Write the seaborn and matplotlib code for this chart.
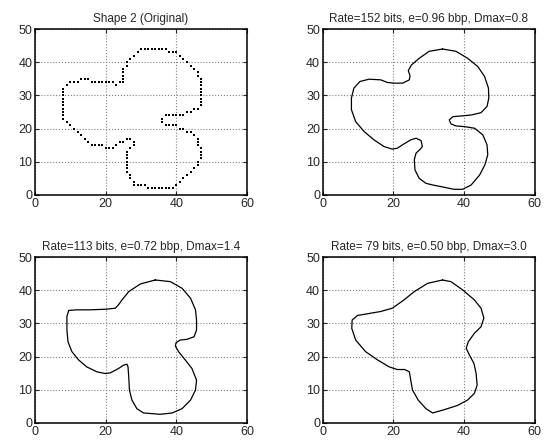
import matplotlib
matplotlib.use("Agg")
import matplotlib.pyplot as plt
import pandas as pd
import seaborn as sns

# original shape: boundary pixels (clockwise from the top)
orig_x = [30, 31, 32, 33, 34, 35, 36, 37, 38, 39, 40, 41, 42, 43, 44, 45, 46, 46,
          47, 47, 47, 47, 47, 47, 47, 47, 47, 46, 45, 44, 43, 42, 41, 40, 39, 38, 37,
          36, 36, 37, 38, 39, 40, 41, 42, 43, 44, 45, 46, 46, 46, 47, 47, 47, 47,
          46, 46, 45, 44, 43, 42, 41, 40, 39, 38, 37, 36, 35, 34, 33, 32,
          31, 30, 29, 28, 28, 27, 27, 26, 26, 26, 26, 26, 26, 26, 27, 28, 28, 27, 26,
          25, 24, 23, 22, 21, 20, 19, 18, 17, 16, 15, 14, 13, 12, 11, 10, 9,
          8, 8, 8, 8, 8, 8, 8, 8, 8, 8, 9, 10, 11, 12, 13, 14, 15, 16, 17, 18, 19,
          20, 21, 22, 23, 24, 25, 25, 25, 25, 25, 26, 26, 27, 28, 29]
orig_y = [44, 44, 44, 44, 44, 44, 44, 44, 43, 43, 43, 42, 41, 40, 39, 38, 37, 36,
          35, 34, 33, 32, 31, 30, 29, 28, 27, 26, 26, 25, 25, 24, 24, 24, 24, 24, 24,
          23, 22, 21, 21, 21, 21, 20, 20, 19, 19, 18, 17, 16, 15, 14, 13, 12, 11,
          10, 9, 8, 7, 6, 5, 4, 3, 2, 2, 2, 2, 2, 2, 2, 2,
          3, 3, 3, 3, 4, 5, 6, 7, 8, 9, 10, 11, 12, 13, 14, 15, 16, 17, 17,
          16, 16, 15, 14, 14, 14, 15, 15, 15, 15, 16, 17, 18, 19, 20, 21, 22,
          23, 24, 25, 26, 27, 28, 29, 30, 31, 32, 33, 34, 34, 34, 35, 35, 35, 34, 34, 34, 34,
          34, 34, 34, 33, 34, 34, 35, 36, 37, 38, 39, 40, 41, 42, 43]

# Rate=152 bits
c1_x = [33.9, 37.7, 41.0, 43.9, 45.8, 46.9, 47.0, 46.5, 44.8, 42.0, 39.1, 36.8, 35.8,
        36.3, 37.7, 40.1, 43.0, 45.3, 46.5, 46.7, 45.9, 44.4, 42.0, 39.6, 37.1, 34.4,
        31.1, 29.2, 27.3, 26.1, 25.9, 26.4, 27.6, 28.2, 27.8, 26.4, 24.9, 23.0, 21.1,
        19.7, 17.3, 14.5, 11.7, 9.3, 8.1, 8.1, 8.8, 10.5, 13.1, 16.4, 18.3, 20.2, 22.6,
        24.5, 24.7, 24.2, 25.1, 27.3, 30.1, 33.9]
c1_y = [44.0, 43.3, 41.2, 38.7, 35.7, 32.2, 29.2, 26.7, 24.8, 24.1, 23.8, 23.6, 22.6,
        21.4, 20.8, 20.6, 20.1, 18.1, 15.1, 12.1, 9.1, 6.0, 3.0, 1.7, 1.7, 2.3,
        3.0, 3.5, 5.0, 7.5, 10.6, 12.6, 13.8, 14.6, 16.4, 17.1, 16.6, 15.4, 14.1,
        13.8, 14.6, 16.6, 19.1, 22.1, 25.7, 29.2, 32.2, 34.2, 34.9, 34.7, 33.9, 33.7, 33.7,
        34.7, 35.9, 37.5, 39.2, 41.2, 43.3, 44.0]

# Rate=113 bits
c2_x = [34.0, 38.3, 41.6, 44.0, 45.4, 45.7, 45.7, 45.0, 43.0, 41.1, 39.9, 39.7, 40.6,
        42.5, 44.4, 45.7, 45.4, 44.0, 41.6, 38.8, 35.4, 33.1, 30.7, 28.8, 27.4, 26.7,
        26.5, 26.3, 26.0, 25.0, 23.6, 21.3, 19.8, 17.5, 14.6, 12.3, 10.4, 9.3, 9.0,
        9.0, 9.5, 11.8, 15.6, 20.3, 22.7, 23.6, 24.6, 26.5, 29.8, 34.0]
c2_y = [43.1, 42.6, 40.6, 37.6, 34.1, 31.0, 28.0, 26.0, 25.2, 25.0, 24.2, 23.2, 21.5,
        19.0, 16.4, 12.9, 9.9, 6.9, 4.3, 3.0, 2.6, 2.8, 3.0, 4.3, 6.9, 9.9,
        13.9, 16.9, 17.7, 17.4, 16.4, 15.1, 14.9, 15.4, 16.9, 19.0, 21.5, 24.5, 28.0,
        32.1, 33.9, 34.1, 34.1, 34.3, 34.6, 35.6, 37.1, 39.6, 41.9, 43.1]

# Rate=79 bits
c3_x = [33.9, 36.3, 39.6, 42.9, 44.8, 45.6, 44.8, 42.9, 41.2, 40.6, 41.5, 42.8, 43.4,
        43.7, 42.9, 41.0, 38.2, 34.4, 31.1, 29.2, 27.0, 25.4, 24.9, 24.5, 23.2, 21.1,
        18.8, 15.5, 12.1, 9.3, 8.2, 8.3, 9.8, 12.6, 16.4, 19.7, 23.0, 25.9, 29.7, 33.9]
c3_y = [43.1, 42.6, 40.1, 37.1, 34.6, 31.6, 29.0, 27.0, 24.5, 22.5, 20.5, 17.9, 14.9,
        11.4, 8.9, 6.9, 5.3, 4.0, 3.0, 4.3, 6.9, 9.9, 12.9, 15.4, 16.1, 16.1,
        16.9, 19.0, 21.5, 25.0, 28.5, 31.0, 32.4, 32.9, 33.6, 34.6, 37.1, 39.6, 42.1, 43.1]

titles = ["Shape 2 (Original)",
          "Rate=152 bits, e=0.96 bbp, Dmax=0.8",
          "Rate=113 bits, e=0.72 bbp, Dmax=1.4",
          "Rate= 79 bits, e=0.50 bbp, Dmax=3.0"]

sns.set_style("white")
plt.rcParams["font.family"] = ["Liberation Sans", "DejaVu Sans"]

fig = plt.figure(figsize=(5.49, 4.41), dpi=100)
boxes = [[0.064, 0.558, 0.386, 0.376], [0.588, 0.558, 0.386, 0.376],
         [0.064, 0.041, 0.386, 0.376], [0.588, 0.041, 0.386, 0.376]]
axes = [fig.add_axes(b) for b in boxes]

df0 = pd.DataFrame({"x": orig_x, "y": orig_y})
sns.scatterplot(data=df0, x="x", y="y", ax=axes[0], marker="s", s=3.5,
                color="black", linewidth=0)

for ax, cx, cy in zip(axes[1:], [c1_x, c2_x, c3_x], [c1_y, c2_y, c3_y]):
    df = pd.DataFrame({"x": cx, "y": cy})
    sns.lineplot(data=df, x="x", y="y", ax=ax, sort=False, color="black",
                 linewidth=0.9, estimator=None)

for ax, t in zip(axes, titles):
    ax.set_xlim(0, 60)
    ax.set_ylim(0, 50)
    ax.set_xticks([0, 20, 40, 60])
    ax.set_yticks([0, 10, 20, 30, 40, 50])
    ax.grid(True, linestyle=":", color="0.5", linewidth=0.8)
    ax.set_xlabel("")
    ax.set_ylabel("")
    ax.tick_params(direction="in", length=3, labelsize=9, pad=2,
                   top=True, right=True, bottom=True, left=True)
    for s in ax.spines.values():
        s.set_color("black")
        s.set_linewidth(1.1)
    ax.set_title(t, fontsize=8.5, pad=5)

fig.savefig("out.png", dpi=100)
